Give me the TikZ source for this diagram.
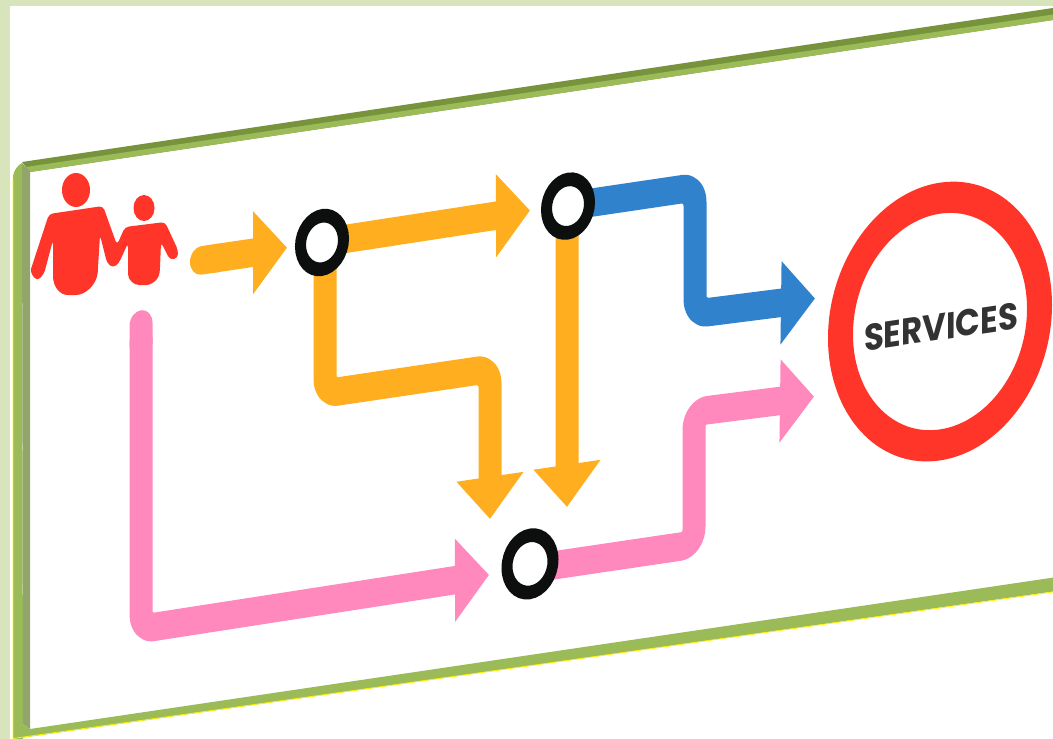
\documentclass[tikz,border=0pt]{standalone}
\usepackage{fontspec}
\setmainfont{Poppins}
\usetikzlibrary{arrows.meta}
\definecolor{paleg}{HTML}{D8E4BC}
\definecolor{frameg}{HTML}{9BBB59}
\definecolor{frameshade}{HTML}{92A66B}
\definecolor{framedark}{HTML}{77933C}
\definecolor{orangeline}{HTML}{FFAE1F}
\definecolor{blueline}{HTML}{3182CC}
\definecolor{pinkline}{HTML}{FF88BD}
\definecolor{redmark}{HTML}{FF352A}
\definecolor{ringblack}{HTML}{0D0F0F}
\definecolor{labelgrey}{HTML}{333333}
\tikzset{
  flow/.style={line width=23pt,rounded corners=13pt,line join=round},
  tipped/.style={flow,-{Triangle[length=34pt,width=65pt]}},
  capped/.style={flow,{Round Cap[]}-{Triangle[length=34pt,width=65pt]}},
  hub/.style={circle,draw=ringblack,fill=white,line width=11pt,minimum size=43pt,inner sep=0pt},
  target/.style={circle,draw=redmark,fill=white,line width=25pt,minimum size=199pt,inner sep=0pt},
  person/.style={fill=redmark,draw=none}
}
\begin{document}
\begin{tikzpicture}[x=1pt,y=-1pt]
\useasboundingbox (0,0) rectangle (1053,739);
% page background
\fill[white] (0,0) rectangle (1053,739);
\fill[paleg] (0,0) rectangle (1053,6);
\fill[paleg] (0,0) rectangle (10,739);
% frame
\fill[framedark] (22,162) -- (1053,8) -- (1053,20) -- (30,172) -- cycle;
\fill[frameg] (26,167) -- (1053,14.5) -- (1053,20) -- (30,172) -- cycle;
\fill[frameg] (13,176) .. controls (14,170) and (18,165) .. (22,163) -- (23,739) -- (13,739) -- cycle;
\fill[frameshade] (22,163) -- (30,171) -- (30,729) -- (23,724) -- cycle;
\fill[frameg] (23,724) -- (30,729) -- (1053,577.6) -- (1053,591.5) -- (13,739) -- cycle;
\draw[yellow,line width=0.8pt] (13,178) -- (13,739) (13,738.5) -- (1053,592);
% people
\fill[person] (76,190) ellipse [x radius=14,y radius=17];
\fill[person] (144,208) ellipse [x radius=10.5,y radius=13];
\fill[person,rounded corners=4pt] (49,214) -- (103,206) -- (117,245) -- (125,227) -- (165,222)
  -- (178,250) -- (178,258) -- (170,260) -- (161,242) -- (160,268) .. controls (159,280) and (151,285) .. (143,285)
  .. controls (134,285) and (128,280) .. (128,270) -- (128,243) -- (119,263) -- (113,268) -- (107,263)
  -- (100,235) -- (98,268) .. controls (97,285) and (85,295) .. (72,295)
  .. controls (60,295) and (53,287) .. (53,272) -- (53,240) -- (44,274) -- (37,281) -- (30,272) -- cycle;
% everything that lies in the sheared plane
\begin{scope}[transform canvas={cm={1,0.148,0,1.24,(0pt,0pt)}}]
  \coordinate (pa) at (322,234);
  \coordinate (pb) at (568,234);
  \coordinate (pc) at (530,518);
  \coordinate (start) at (190,234);
  \coordinate (tipa) at (287,234);
  \coordinate (tipb) at (530,233);
  \coordinate (dropa) at (325,356);
  \coordinate (dropb) at (490,356);
  \coordinate (tipc) at (490,477);
  \coordinate (tipd) at (567,476.5);
  \coordinate (bluestart) at (568,234);
  \coordinate (bluecorner) at (695,234);
  \coordinate (bluelow) at (695,336);
  \coordinate (tipe) at (815,338);
  \coordinate (pinkstart) at (141,267);
  \coordinate (pinkcorner) at (141,524);
  \coordinate (tipf) at (489,522);
  \coordinate (pinklow) at (694,522);
  \coordinate (pinkup) at (694,415);
  \coordinate (tipg) at (814,417);
  \draw[capped,orangeline] (start) -- (tipa);
  \draw[tipped,orangeline] (pa) -- (tipb);
  \draw[tipped,orangeline] (325,234) -- (dropa) -- (dropb) -- (tipc);
  \draw[tipped,orangeline] (567,234) -- (tipd);
  \draw[tipped,blueline] (bluestart) -- (bluecorner) -- (bluelow) -- (tipe);
  \draw[capped,pinkline] (pinkstart) -- (pinkcorner) -- (tipf);
  \draw[tipped,pinkline] (530,522) -- (pinklow) -- (pinkup) -- (tipg);
  \node[hub] (a) at (pa) {};
  \node[hub] (b) at (pb) {};
  \node[hub,minimum size=46pt] (c) at (pc) {};
  \node[target] (s) at (940,371.5) {};
  \node[text=labelgrey,font=\bfseries\fontsize{30}{30}\selectfont] (label) at (941,376) {\scalebox{1.08}[1]{SERVICES}};
\end{scope}
\end{tikzpicture}
\end{document}
